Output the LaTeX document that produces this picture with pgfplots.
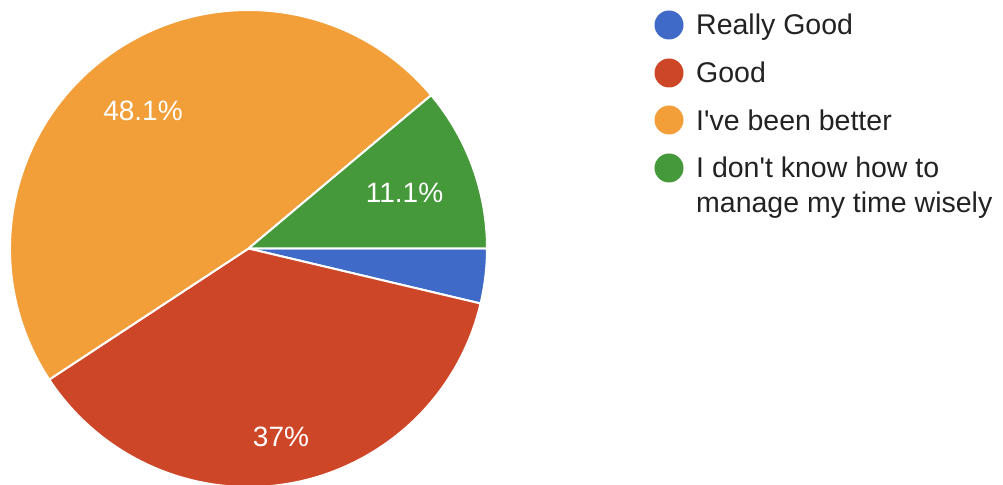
\documentclass[border=0pt]{standalone}
\usepackage{pgfplots}
\pgfplotsset{compat=1.18}
\usepackage{pgfplotstable}
\usepackage{fontspec}
\setmainfont{Liberation Sans}
\definecolor{pieblue}{HTML}{3F6AC8}
\definecolor{piered}{HTML}{CE4628}
\definecolor{pieorange}{HTML}{F29E39}
\definecolor{piegreen}{HTML}{46993A}
\definecolor{legtext}{HTML}{222222}
\pgfplotstableread[col sep=comma]{
name,count,pct
Really Good,1,3.7
Good,10,37
I've been better,13,48.1
I don't know how to manage my time wisely,3,11.1
}\piedata
\begin{document}
\begin{tikzpicture}
\pgfplotstablegetelem{0}{count}\of\piedata\edef\cA{\pgfplotsretval}
\pgfplotstablegetelem{1}{count}\of\piedata\edef\cB{\pgfplotsretval}
\pgfplotstablegetelem{2}{count}\of\piedata\edef\cC{\pgfplotsretval}
\pgfplotstablegetelem{3}{count}\of\piedata\edef\cD{\pgfplotsretval}
\pgfmathsetmacro\tot{\cA+\cB+\cC+\cD}
\pgfmathsetmacro\aA{-360*\cA/\tot}
\pgfmathsetmacro\aB{\aA-360*\cB/\tot}
\pgfmathsetmacro\aC{\aB-360*\cC/\tot}
\pgfmathsetmacro\aD{\aC-360*\cD/\tot}
\begin{axis}[
  width=1003bp, height=484bp, scale only axis,
  xmin=0, xmax=1003, ymin=0, ymax=484,
  hide axis,
]
\def\R{238.5bp}
\begin{scope}
\clip (axis cs:0,0) rectangle (axis cs:1003,484);
\fill[pieblue, draw=white, line width=2bp, line join=round] (axis cs:248.5,235.5) -- ++(0:\R) arc[start angle=0, end angle=\aA, radius=\R] -- cycle;
\fill[piered, draw=white, line width=2bp, line join=round] (axis cs:248.5,235.5) -- ++(\aA:\R) arc[start angle=\aA, end angle=\aB, radius=\R] -- cycle;
\fill[pieorange, draw=white, line width=2bp, line join=round] (axis cs:248.5,235.5) -- ++(\aB:\R) arc[start angle=\aB, end angle=\aC, radius=\R] -- cycle;
\fill[piegreen, draw=white, line width=2bp, line join=round] (axis cs:248.5,235.5) -- ++(\aC:\R) arc[start angle=\aC, end angle=\aD, radius=\R] -- cycle;
\end{scope}
% slice labels
\node[anchor=base, text=white, font=\fontsize{28bp}{33bp}\selectfont] at (axis cs:143,363) {48.1\%};
\node[anchor=base, text=white, font=\fontsize{28bp}{33bp}\selectfont] at (axis cs:281,38) {37\%};
\node[anchor=base, text=white, font=\fontsize{28bp}{33bp}\selectfont] at (axis cs:404.5,281) {11.1\%};
% legend
\fill[pieblue] (axis cs:669,459) circle[radius=14.5bp];
\fill[piered] (axis cs:669,411) circle[radius=14.5bp];
\fill[pieorange] (axis cs:669,364) circle[radius=14.5bp];
\fill[piegreen] (axis cs:669,316) circle[radius=14.5bp];
\node[anchor=base west, inner sep=0pt, text=legtext, font=\fontsize{28.5bp}{34bp}\selectfont] at (axis cs:696,449) {Really Good};
\node[anchor=base west, inner sep=0pt, text=legtext, font=\fontsize{28.5bp}{34bp}\selectfont] at (axis cs:696,401) {Good};
\node[anchor=base west, inner sep=0pt, text=legtext, font=\fontsize{28.5bp}{34bp}\selectfont] at (axis cs:696,353) {I\textquotesingle ve been better};
\node[anchor=base west, inner sep=0pt, text=legtext, font=\fontsize{28.5bp}{34bp}\selectfont] at (axis cs:696,306) {I don\textquotesingle t know how to};
\node[anchor=base west, inner sep=0pt, text=legtext, font=\fontsize{28.5bp}{34bp}\selectfont] at (axis cs:696,271) {manage my time wisely};
\end{axis}
\pgfresetboundingbox
\useasboundingbox (current axis.south west) rectangle (current axis.north east);
\end{tikzpicture}
\end{document}
